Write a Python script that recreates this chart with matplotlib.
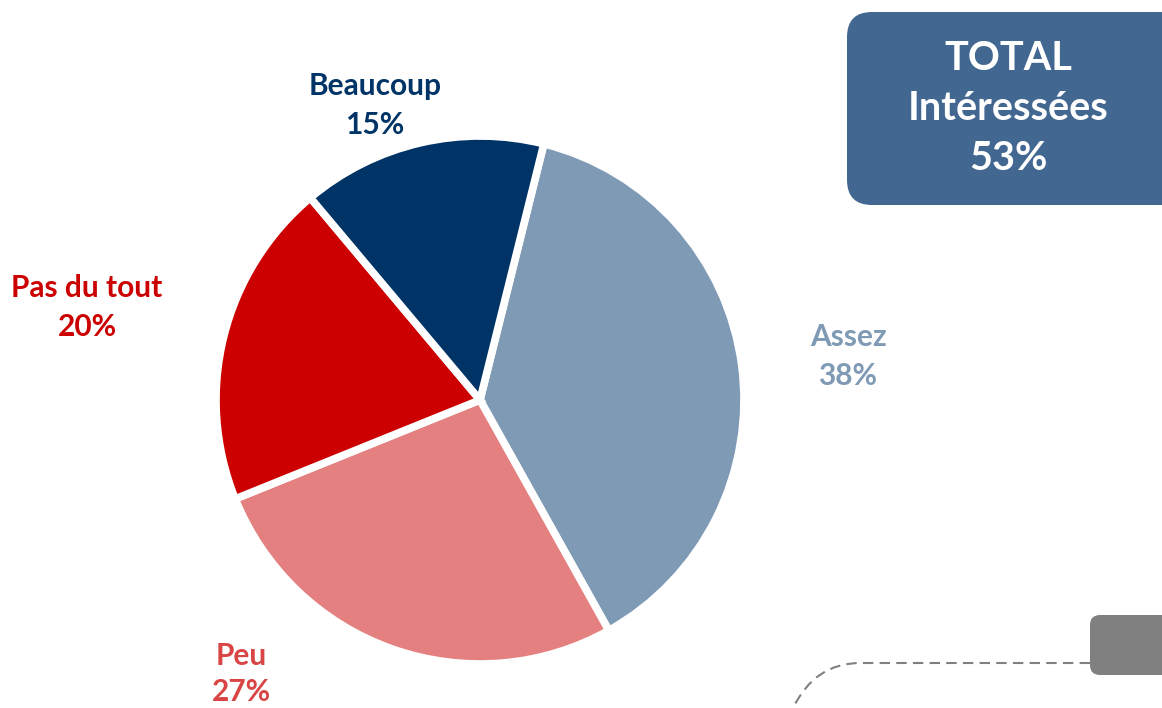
import matplotlib.pyplot as plt
from matplotlib.patches import FancyBboxPatch
from matplotlib.path import Path
from matplotlib.patches import PathPatch

labels = ['Assez', 'Peu', 'Pas du tout', 'Beaucoup']
values = [38, 27, 20, 15]
slice_colors = ['#7F9AB4', '#E48080', '#CC0000', '#003366']
text_colors = ['#7F9AB4', '#D94545', '#CC0000', '#003366']
total_label = ['TOTAL', 'Intéressées', '53%']

W, H = 1162, 708
fig = plt.figure(figsize=(W / 100, H / 100), dpi=100)
ax = fig.add_axes([0, 0, 1, 1])

font = ['Lato', 'DejaVu Sans']

# pie, y measured from the bottom
cx, cy, r = 480, H - 400, 264
ax.pie(values, colors=slice_colors, startangle=76, counterclock=False,
       center=(cx, cy), radius=r, frame=True,
       wedgeprops=dict(edgecolor='white', linewidth=5.5))
ax.set_xlim(0, W)
ax.set_ylim(0, H)
ax.set_aspect('auto')
ax.axis('off')

label_pos = {'Assez': (848, 337), 'Peu': (241, 656),
             'Pas du tout': (87, 288), 'Beaucoup': (375, 86)}
for lab, v, c in zip(labels, values, text_colors):
    x, y = label_pos[lab]
    ax.text(x, H - y, lab, ha='center', va='center', color=c,
            fontsize=21.5, fontweight='bold', family=font)
    # the Peu label sits right at the bottom edge, keep lines a bit tighter
    gap = 36 if lab == 'Peu' else 39
    ax.text(x, H - y - gap, f'{v}%', ha='center', va='center', color=c,
            fontsize=21.5, fontweight='bold', family=font)

# total box
box = FancyBboxPatch((847 + 25, H - 205 + 25), 400, 193 - 50,
                     boxstyle='round,pad=25', fc='#426791', ec='none')
ax.add_patch(box)
for i, t in enumerate(total_label):
    ax.text(1008, H - 58 - 50 * i, t, ha='center', va='center', color='white',
            fontsize=28.5, fontweight='bold', family=font)

# grey box and dashed connector at bottom right
grey = FancyBboxPatch((1090 + 10, H - 675 + 10), 200, 60 - 20,
                      boxstyle='round,pad=10', fc='#808080', ec='none')
ax.add_patch(grey)
verts = [(1090, H - 663), (860, H - 663), (815, H - 663), (793, H - 708)]
codes = [Path.MOVETO, Path.LINETO, Path.CURVE3, Path.CURVE3]
ax.add_patch(PathPatch(Path(verts, codes), fc='none', ec='#808080',
                       lw=1.5, linestyle=(0, (5, 3))))

fig.savefig('out.png', dpi=100)
